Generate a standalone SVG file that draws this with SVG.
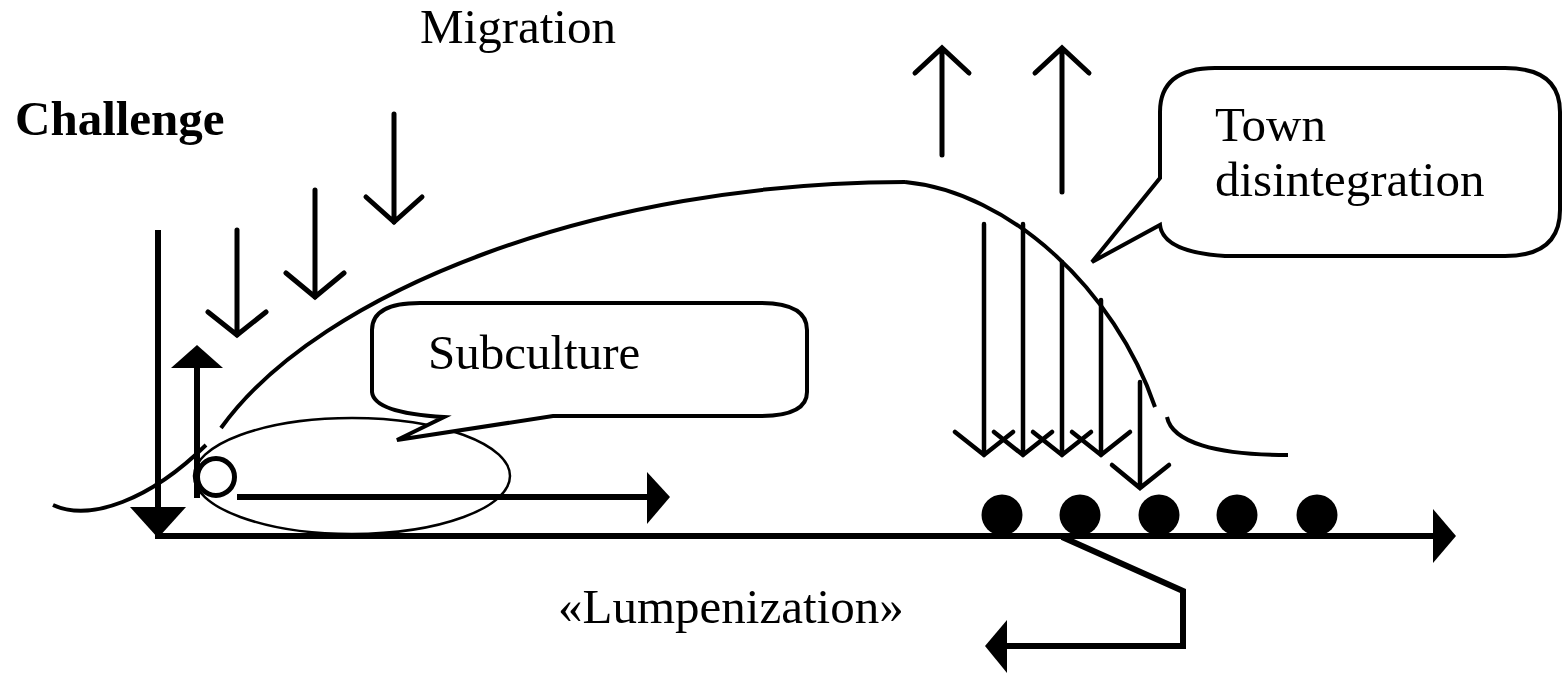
<svg xmlns="http://www.w3.org/2000/svg" width="1563" height="674" viewBox="0 0 1563 674">
<style>
  .t { font-family: "Liberation Serif", "Times New Roman", serif; font-size: 49px; fill: #000; }
  .b { font-weight: bold; }
  .curve { fill: none; stroke: #000; stroke-width: 4; stroke-linecap: butt; }
  .thick { fill: none; stroke: #000; stroke-width: 6; }
  .arr { fill: none; stroke: #000; stroke-width: 5; stroke-linecap: round; stroke-linejoin: miter; }
  .arr4 { fill: none; stroke: #000; stroke-width: 4.5; stroke-linecap: round; }
  .head { fill: #000; stroke: none; }
  .callout { fill: #fff; stroke: #000; stroke-width: 4; stroke-linejoin: miter; }
  .thin { fill: none; stroke: #000; stroke-width: 2.5; }
</style>
<rect width="1563" height="674" fill="#fff"/>

<g id="label-migration"><text class="t" x="420" y="43">Migration</text></g>
<g id="label-challenge"><text class="t b" x="15" y="135">Challenge</text></g>

<g id="subculture-ellipse"><ellipse class="thin" cx="352" cy="476" rx="158" ry="58"/></g>

<g id="curve">
  <path class="curve" d="M53,505 C90,522 150,500 206,445"/>
  <path class="curve" d="M221,428 C320,290 600,182 905,182"/>
  <path class="curve" d="M905,182 C1010,192 1115,290 1155,407"/>
  <path class="curve" d="M1167,417 C1172,442 1215,455 1288,455"/>
</g>

<g id="subculture">
  <path class="callout" d="M372,330 Q372,303 420,303 L760,303 Q807,303 807,330 L807,392 Q807,416 760,416 L553,416 L397,440 L444,417 Q374,413 372,392 Z"/>
  <text class="t" x="428" y="369">Subculture</text>
</g>

<g id="town-disintegration">
  <path class="callout" d="M1160,178 L1160,112 Q1160,68 1215,68 L1505,68 Q1560,68 1560,112 L1560,210 Q1560,256 1505,256 L1225,256 Q1163,252 1160,225 L1092,262 Z"/>
  <text class="t" x="1215" y="141">Town</text>
  <text class="t" x="1215" y="196">disintegration</text>
</g>

<g id="dots">
  <circle cx="1002" cy="515" r="20.5"/>
  <circle cx="1080" cy="515" r="20.5"/>
  <circle cx="1159" cy="515" r="20.5"/>
  <circle cx="1237" cy="515" r="20.5"/>
  <circle cx="1317" cy="515" r="20.5"/>
</g>

<g id="small-circle"><circle cx="216" cy="477" r="18.5" fill="none" stroke="#000" stroke-width="5"/></g>

<g id="connectors">
  <!-- main axis -->
  <line class="thick" x1="155" y1="536" x2="1436" y2="536"/>
  <polygon class="head" points="1433,509 1456,536 1433,563"/>
  <!-- left challenge down arrow -->
  <line class="thick" x1="158" y1="230" x2="158" y2="515"/>
  <polygon class="head" points="130,507 186,507 158,538"/>
  <!-- up arrow -->
  <line class="thick" x1="197" y1="498" x2="197" y2="366"/>
  <polygon class="head" points="171,368 223,368 197,345"/>
  <!-- right arrow from circle -->
  <line class="thick" x1="237" y1="497" x2="650" y2="497"/>
  <polygon class="head" points="647,472 670,497 647,524"/>
  <!-- migration arrows -->
  <path class="arr" d="M237,230 L237,335 M208,312 L237,335 L266,312"/>
  <path class="arr" d="M315,190 L315,297 M286,273 L315,297 L344,273"/>
  <path class="arr" d="M394,114 L394,222 M366,197 L394,222 L422,197"/>
  <!-- upward arrows -->
  <path class="arr" d="M942,155 L942,48 M915,73 L942,48 L969,73"/>
  <path class="arr" d="M1062,192 L1062,48 M1035,73 L1062,48 L1089,73"/>
  <!-- down arrows into town -->
  <path class="arr4" d="M984,224 L984,455 M955,432 L984,455 L1013,432"/>
  <path class="arr4" d="M1023,224 L1023,455 M994,432 L1023,455 L1052,432"/>
  <path class="arr4" d="M1062,262 L1062,455 M1033,432 L1062,455 L1091,432"/>
  <path class="arr4" d="M1101,300 L1101,455 M1072,432 L1101,455 L1130,432"/>
  <path class="arr4" d="M1140,382 L1140,488 M1112,465 L1140,488 L1169,465"/>
  <!-- lumpenization return arrow -->
  <path class="thick" d="M1062,537 L1183,591 L1183,646 L1005,646"/>
  <polygon class="head" points="1007,620 985,646 1007,673"/>
</g>

<g id="label-lumpenization"><text class="t" x="558" y="623">«Lumpenization»</text></g>
</svg>
